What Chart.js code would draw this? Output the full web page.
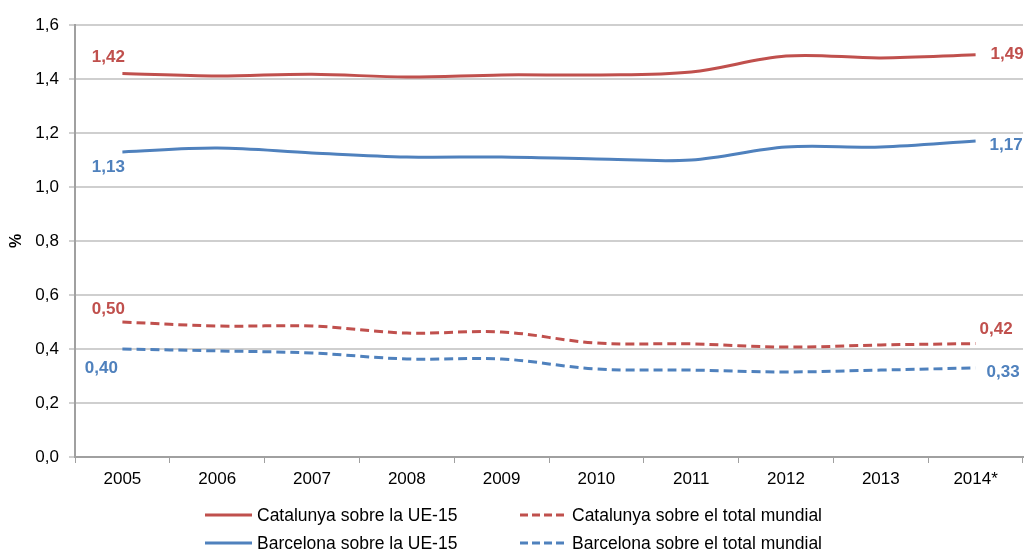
<!DOCTYPE html>
<html>
<head>
<meta charset="utf-8">
<script src="https://cdn.jsdelivr.net/npm/chart.js@4"></script>
<style>
  html, body { margin: 0; padding: 0; background: #fff; }
  #wrap { width: 1026px; height: 554px; }
</style>
</head>
<body>
<div id="wrap"><canvas id="chart" width="1026" height="554"></canvas></div>
<script>
// Categories and series.
const years = ['2005', '2006', '2007', '2008', '2009', '2010', '2011', '2012', '2013', '2014*'];
const catUE15 = [1.42, 1.411, 1.418, 1.407, 1.415, 1.415, 1.426, 1.485, 1.478, 1.49];
const bcnUE15 = [1.13, 1.144, 1.126, 1.111, 1.111, 1.104, 1.10, 1.148, 1.148, 1.17];
const catMundial = [0.50, 0.485, 0.485, 0.459, 0.463, 0.422, 0.419, 0.407, 0.415, 0.42];
const bcnMundial = [0.40, 0.393, 0.385, 0.363, 0.363, 0.326, 0.322, 0.315, 0.322, 0.33];
const seriesNames = [
  'Catalunya sobre la UE-15',
  'Catalunya sobre el total mundial',
  'Barcelona sobre la UE-15',
  'Barcelona sobre el total mundial'
];

const RED = '#C0504D';
const BLUE = '#4F81BD';
const FONT = '"Liberation Sans", Arial, sans-serif';

const fmt = v => v.toFixed(2).replace('.', ',');

// Labels for the first and last point of each line.
// offsets: [dxFirst, dyFirst, dxLast, dyLast]
const labelOffsets = [
  [-14, -16, 15, 0],
  [-14, -13, 4, -14],
  [-14, 15, 14, 4],
  [-21, 19, 11, 4]
];

const endLabels = {
  id: 'endLabels',
  afterDatasetsDraw(chart) {
    const ctx = chart.ctx;
    ctx.save();
    ctx.font = 'bold 17px ' + FONT;
    ctx.textBaseline = 'middle';
    chart.data.datasets.forEach((ds, i) => {
      const pts = chart.getDatasetMeta(i).data;
      const off = labelOffsets[i];
      ctx.fillStyle = ds.borderColor;
      const first = pts[0];
      ctx.textAlign = 'center';
      ctx.fillText(fmt(ds.data[0]), first.x + off[0], first.y + off[1]);
      const last = pts[pts.length - 1];
      ctx.textAlign = 'left';
      ctx.fillText(fmt(ds.data[ds.data.length - 1]), last.x + off[2], last.y + off[3]);
    });
    ctx.restore();
  }
};

// Two-column legend under the plot.
const gridLegend = {
  id: 'gridLegend',
  afterDraw(chart) {
    const ctx = chart.ctx;
    const cols = [205, 520];
    const rows = [515, 543];
    ctx.save();
    ctx.font = '17.5px ' + FONT;
    ctx.textBaseline = 'middle';
    ctx.textAlign = 'left';
    chart.data.datasets.forEach((ds, i) => {
      const x = cols[i % 2];
      const y = rows[Math.floor(i / 2)];
      ctx.strokeStyle = ds.borderColor;
      ctx.lineWidth = 3;
      ctx.setLineDash(ds.borderDash.length ? [8, 4] : []);
      ctx.beginPath();
      ctx.moveTo(x, y);
      ctx.lineTo(x + 47, y);
      ctx.stroke();
      ctx.setLineDash([]);
      ctx.fillStyle = '#000';
      ctx.fillText(ds.label, x + 52, y + 1);
    });
    ctx.restore();
  }
};

const makeSet = (label, data, color, dashed) => ({
  label: label,
  data: data,
  borderColor: color,
  backgroundColor: color,
  borderWidth: 3,
  borderDash: dashed ? [9, 5] : [],
  pointRadius: 0,
  tension: 0.35,
  fill: false
});

new Chart(document.getElementById('chart'), {
  type: 'line',
  data: {
    labels: years,
    datasets: [
      makeSet(seriesNames[0], catUE15, RED, false),
      makeSet(seriesNames[1], catMundial, RED, true),
      makeSet(seriesNames[2], bcnUE15, BLUE, false),
      makeSet(seriesNames[3], bcnMundial, BLUE, true)
    ]
  },
  options: {
    responsive: false,
    animation: false,
    layout: { padding: { top: 25, right: 3, bottom: 0, left: 0 } },
    plugins: {
      legend: { display: false },
      tooltip: { enabled: false }
    },
    scales: {
      x: {
        offset: true,
        afterFit: s => { s.height = 97; },
        grid: { drawOnChartArea: false, offset: true, tickLength: 6, color: '#a0a0a0', lineWidth: 1 },
        border: { color: '#a0a0a0', width: 2 },
        ticks: { color: '#000', font: { size: 17, family: FONT }, padding: 6, maxRotation: 0 }
      },
      y: {
        min: 0,
        max: 1.6,
        afterFit: s => { s.width = 75; },
        ticks: {
          stepSize: 0.2,
          color: '#000',
          font: { size: 17, family: FONT },
          padding: 10,
          callback: v => v.toFixed(1).replace('.', ',')
        },
        grid: { color: '#cfcfcf', lineWidth: 2, tickLength: 6 },
        border: { color: '#a0a0a0', width: 2 },
        title: { display: true, text: '%', color: '#000', font: { size: 16, weight: 'bold', family: FONT }, padding: { top: 7, bottom: 0 } }
      }
    }
  },
  plugins: [endLabels, gridLegend]
});
</script>
</body>
</html>
